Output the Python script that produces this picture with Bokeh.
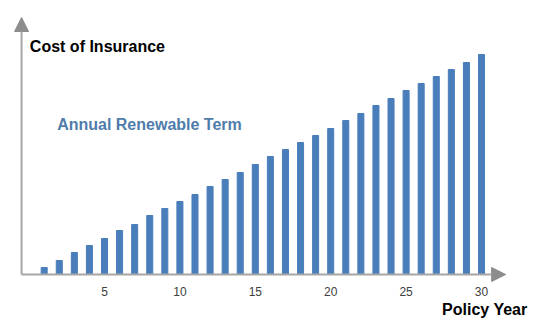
from bokeh.plotting import figure
from bokeh.models import Range1d, Label, Arrow, NormalHead, FixedTicker, Title
from bokeh.embed import file_html
from bokeh.resources import INLINE

years = list(range(1, 31))
costs = [7, 14, 22, 29, 36, 44, 50, 59, 66, 73, 80, 88, 95, 102, 110,
         118, 125, 132, 139, 146, 154, 161, 169, 176, 184, 191, 198, 205, 212, 220]
tick_values = [5, 10, 15, 20, 25, 30]

y_title = "Cost of Insurance"
x_title = "Policy Year"
series_name = "Annual Renewable Term"

BAR = "#4a7ebb"
AXIS = "#a6a6a6"
HEAD = "#8c8c8c"
FONT = "Liberation Sans"

p = figure(width=540, height=336, output_backend="svg", toolbar_location=None,
           x_range=Range1d(-1.897, 33.912), y_range=Range1d(-10, 274),
           min_border_left=0, min_border_right=0, min_border_top=0, min_border_bottom=52)
p.outline_line_color = None
p.grid.visible = False
p.yaxis.visible = False
p.background_fill_color = "white"
p.border_fill_color = "white"

p.vbar(x=years, top=costs, width=0.4, color=BAR)

ax = p.xaxis[0]
ax.ticker = FixedTicker(ticks=tick_values)
ax.axis_line_color = None
ax.major_tick_line_color = None
ax.minor_tick_line_color = None
ax.major_tick_out = 0
ax.major_tick_in = 0
ax.major_label_standoff = 2
ax.major_label_text_font = FONT
ax.major_label_text_font_size = "12px"
ax.major_label_text_color = "#404040"

p.add_layout(Title(text=x_title, align="right", offset=13, text_font=FONT,
                   text_font_style="bold", text_font_size="16px", text_color="black",
                   standoff=0), "below")

p.add_layout(Arrow(end=NormalHead(size=14, fill_color=HEAD, line_color=HEAD),
                   x_start=-0.5, y_start=0, x_end=31.6, y_end=0,
                   line_color=AXIS, line_width=2))
p.add_layout(Arrow(end=NormalHead(size=14, fill_color=HEAD, line_color=HEAD),
                   x_start=-0.5, y_start=0, x_end=-0.5, y_end=257,
                   line_color=AXIS, line_width=2))

p.add_layout(Label(x=0.05, y=228, text=y_title, text_font=FONT, text_font_style="bold",
                   text_font_size="16px", text_color="black", text_baseline="alphabetic"))
p.add_layout(Label(x=1.86, y=150, text=series_name, text_font=FONT, text_font_style="bold",
                   text_font_size="16px", text_color="#4f7cab", text_baseline="alphabetic"))

open("out.html", "w").write(file_html(p, INLINE))
